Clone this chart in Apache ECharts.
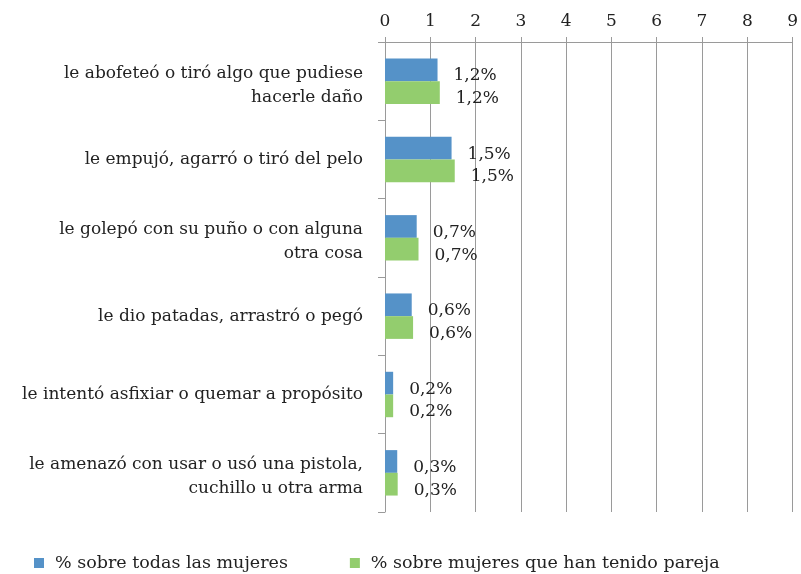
<!DOCTYPE html>
<html><head><meta charset="utf-8">
<script src="https://cdn.jsdelivr.net/npm/echarts@6/dist/echarts.min.js"></script>
<style>html,body{margin:0;padding:0;background:#fff}#c{width:801px;height:574px}</style>
</head><body><div id="c"></div>
<script>
var categories = [
  "le abofeteó o tiró algo que pudiese\nhacerle daño",
  "le empujó, agarró o tiró del pelo",
  "le golepó con su puño o con alguna\notra cosa",
  "le dio patadas, arrastró o pegó",
  "le intentó asfixiar o quemar a propósito",
  "le amenazó con usar o usó una pistola,\ncuchillo u otra arma"
];
var seriesNames = ["% sobre todas las mujeres", "% sobre mujeres que han tenido pareja"];
var todasValues = [1.16, 1.47, 0.70, 0.59, 0.18, 0.27];
var parejaValues = [1.21, 1.54, 0.74, 0.62, 0.18, 0.28];
var axisTicks = [0, 1, 2, 3, 4, 5, 6, 7, 8, 9];

var FONT = "DejaVu Serif";
var chart = echarts.init(document.getElementById('c'), null, {renderer: 'canvas'});
function lbl(p) { return p.value.toFixed(1).replace('.', ',') + '%'; }
var labelCfg = {show: true, position: 'right', distance: 16, offset: [0, 6], formatter: lbl,
  fontFamily: FONT, fontSize: 17, color: '#222'};
chart.setOption({
  animation: false,
  textStyle: {fontFamily: FONT},
  grid: {left: 385, right: 6, top: 42, bottom: 62},
  xAxis: {
    type: 'value', position: 'top', min: axisTicks[0], max: axisTicks[axisTicks.length - 1], interval: 1,
    axisLine: {show: true, lineStyle: {color: '#9a9a9a', width: 1}},
    axisTick: {show: true, length: 5, lineStyle: {color: '#9a9a9a'}},
    axisLabel: {fontFamily: FONT, fontSize: 17, color: '#222', margin: 12},
    splitLine: {show: true, lineStyle: {color: '#9a9a9a', width: 1}}
  },
  yAxis: {
    type: 'category', data: categories, inverse: true,
    axisLine: {show: true, lineStyle: {color: '#9a9a9a', width: 1}},
    axisTick: {show: true, length: 7, lineStyle: {color: '#9a9a9a'}},
    axisLabel: {fontFamily: FONT, fontSize: 17, color: '#222', margin: 22, lineHeight: 24, align: 'right',
      formatter: function (v) {
        var lines = v.split('\n');
        if (lines.length > 1) {
          return '{sp|}\n' + lines.map(function (l) { return '{t|' + l + '}'; }).join('\n');
        }
        return '{t|' + v + '}';
      },
      rich: {
        sp: {height: 8, lineHeight: 8, fontSize: 1},
        t: {fontFamily: FONT, fontSize: 17, color: '#222', lineHeight: 24}
      }
    }
  },
  legend: {
    top: 549, left: 29, itemWidth: 10, itemHeight: 10, itemGap: 62, icon: 'rect',
    textStyle: {fontFamily: FONT, fontSize: 17.5, color: '#222', padding: [0, 0, 0, 6]},
    data: seriesNames
  },
  series: [
    {name: seriesNames[0], type: 'bar', data: todasValues, barGap: '0%', barCategoryGap: '42%',
     itemStyle: {color: '#5592C8'}, label: labelCfg},
    {name: seriesNames[1], type: 'bar', data: parejaValues, barGap: '0%', barCategoryGap: '42%',
     itemStyle: {color: '#93CD6E'}, label: labelCfg}
  ]
});
</script></body></html>
